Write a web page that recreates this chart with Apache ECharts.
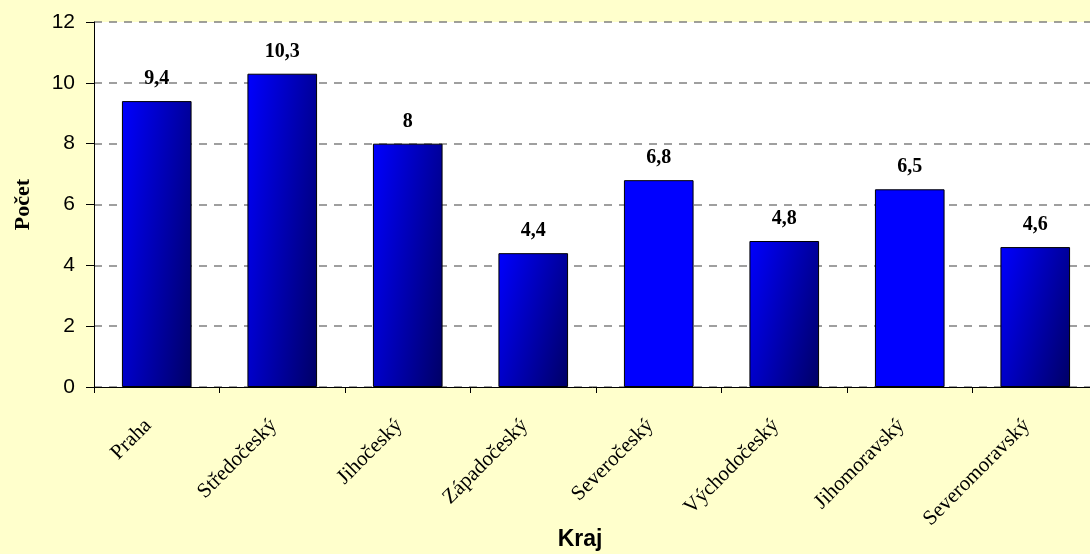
<!DOCTYPE html>
<html>
<head>
<meta charset="utf-8">
<script src="https://cdn.jsdelivr.net/npm/echarts@6/dist/echarts.min.js"></script>
<style>
html,body{margin:0;padding:0;background:#FFFFCC;}
#c{width:1090px;height:554px;}
</style>
</head>
<body>
<div id="c"></div>
<script>
const categories = ['Praha','Středočeský','Jihočeský','Západočeský','Severočeský','Východočeský','Jihomoravský','Severomoravský'];
const values = [9.4, 10.3, 8, 4.4, 6.8, 4.8, 6.5, 4.6];
const yTicks = [0, 2, 4, 6, 8, 10, 12];
const xName = 'Kraj';
const yName = 'Počet';

// styling: which bars are plain blue, the rest get the shaded fill
const flatIdx = [4, 6];
const yMax = yTicks[yTicks.length - 1];
function shade(v) {
  const w = 70, h = Math.max(1, v / yMax * 365);
  const a = 0.65, b = 0.35;
  const s = 1 / (a * a / (w * w) + b * b / (h * h));
  return {type:'linear', x:0, y:0, x2: s * a / (w * w), y2: s * b / (h * h),
    colorStops:[{offset:0,color:'#0000FF'},{offset:1,color:'#000066'}]};
}

const chart = echarts.init(document.getElementById('c'));
chart.setOption({
  backgroundColor:'#FFFFCC',
  animation:false,
  grid:{left:94, top:22, right:-8, bottom:167, show:true, backgroundColor:'#FFFFFF', borderWidth:0, outerBoundsMode:'none', containLabel:false},
  xAxis:{
    type:'category', data:categories,
    name:xName, nameLocation:'middle', nameGap:141, nameMoveOverlap:false,
    nameTextStyle:{fontFamily:'Liberation Sans', fontWeight:'bold', fontSize:23, color:'#000', padding:[0,32,0,0]},
    axisLine:{lineStyle:{color:'#000', width:1}},
    axisTick:{show:true, length:6, lineStyle:{color:'#000'}},
    axisLabel:{interval:0, rotate:45, margin:27, padding:[0,12,0,0], fontFamily:'Liberation Serif', fontSize:21, color:'#000'}
  },
  yAxis:{
    type:'value', min:yTicks[0], max:yMax, interval:2,
    name:yName, nameLocation:'middle', nameGap:60, nameRotate:90, nameMoveOverlap:false,
    nameTextStyle:{fontFamily:'Liberation Serif', fontWeight:'bold', fontSize:22, color:'#000'},
    axisLine:{show:true, lineStyle:{color:'#000', width:1}},
    axisTick:{show:true, length:8, lineStyle:{color:'#000'}},
    axisLabel:{margin:19, fontFamily:'Liberation Sans', fontSize:21, color:'#000'},
    splitLine:{show:true, lineStyle:{color:'#808080', type:[8,7], width:1.5}}
  },
  series:[{
    type:'bar',
    data:values.map((v,i)=>({value:v, itemStyle:{color: flatIdx.includes(i) ? '#0000FF' : shade(v)}})),
    barWidth:'55.5%',
    itemStyle:{borderColor:'#000', borderWidth:1},
    label:{show:true, position:'top', distance:12, fontFamily:'Liberation Serif', fontWeight:'bold', fontSize:20, color:'#000',
      formatter:p=>String(p.value).replace('.', ',')}
  }]
});
</script>
</body>
</html>
